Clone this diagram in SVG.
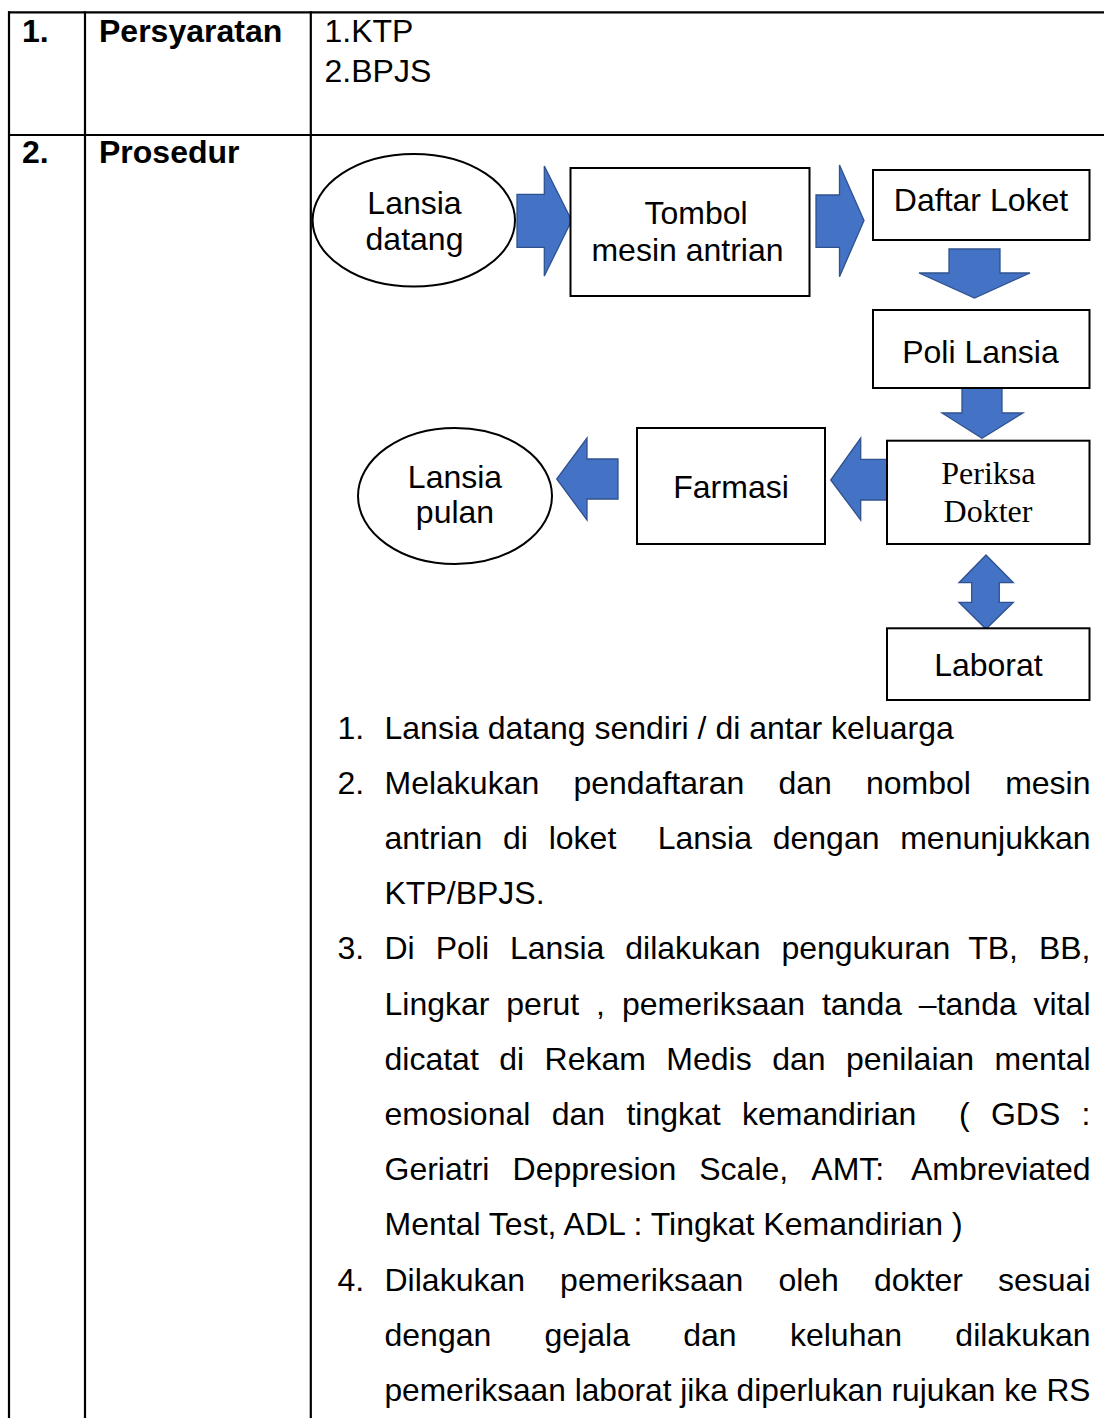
<svg xmlns="http://www.w3.org/2000/svg" width="1104" height="1418" viewBox="0 0 1104 1418">
  <style>
    .grid { stroke: #000; stroke-width: 2.2; fill: none; }
    .box { fill: #fff; stroke: #000; stroke-width: 2; }
    .arrow { fill: #4472C4; stroke: #2F528F; stroke-width: 1.3; stroke-linejoin: miter; }
    text { font-family: "Liberation Sans", Arial, sans-serif; font-size: 32px; fill: #000; }
    .b { font-weight: bold; }
    .c { text-anchor: middle; }
    .serif { font-family: "Liberation Serif", "Times New Roman", serif; }
  </style>

  <rect width="1104" height="1418" fill="#fff"/>

  <!-- table rules -->
  <g id="table">
    <line class="grid" x1="8" y1="12.3" x2="1104" y2="12.3"/>
    <line class="grid" x1="8" y1="135" x2="1104" y2="135"/>
    <line class="grid" x1="9" y1="11.2" x2="9" y2="1418"/>
    <line class="grid" x1="85" y1="11.2" x2="85" y2="1418"/>
    <line class="grid" x1="310.8" y1="11.2" x2="310.8" y2="1418"/>
  </g>

  <!-- table cells -->
  <g id="cells">
    <text class="b" x="22" y="41.7">1.</text>
    <text class="b" x="99" y="41.7">Persyaratan</text>
    <text x="324.5" y="41.7">1.KTP</text>
    <text x="324.5" y="82">2.BPJS</text>
    <text class="b" x="22" y="163">2.</text>
    <text class="b" x="99" y="163">Prosedur</text>
  </g>

  <!-- block arrows between steps -->
  <g id="connectors">
    <polygon class="arrow" points="517,194.3 544.3,194.3 544.3,166 571.7,220.5 544.3,276 544.3,247.3 517,247.3"/>
    <polygon class="arrow" points="816,195 839.5,195 839.5,165 864,220.5 839.5,276.7 839.5,247.3 816,247.3"/>
    <polygon class="arrow" points="949,249 1000,249 1000,273 1030,273 974.5,298 919,273 949,273"/>
    <polygon class="arrow" points="962,388 1002,388 1002,413 1023,413 982,438.3 942,413 962,413"/>
    <polygon class="arrow" points="887,459.3 860.7,459.3 860.7,438 830.7,480 860.7,520 860.7,500 887,500"/>
    <polygon class="arrow" points="618,459 587,459 587,438 556.7,479 587,520 587,499 618,499"/>
    <polygon class="arrow" points="986,555 1013.3,582.7 999.3,582.7 999.3,602.3 1013.3,602.3 986,629 959,602.3 971.7,602.3 971.7,582.7 959,582.7"/>
  </g>

  <g id="lansia-datang">
    <ellipse class="box" cx="413.8" cy="220.3" rx="101.2" ry="66.3"/>
    <text class="c" x="414.5" y="214">Lansia</text>
    <text class="c" x="414.5" y="250">datang</text>
  </g>

  <g id="tombol">
    <rect class="box" x="570.5" y="168" width="239" height="128"/>
    <text class="c" x="696" y="224">Tombol</text>
    <text class="c" x="687.5" y="260.7">mesin antrian</text>
  </g>

  <g id="daftar-loket">
    <rect class="box" x="873" y="170" width="216.5" height="70"/>
    <text class="c" x="981" y="210.7">Daftar Loket</text>
  </g>

  <g id="poli-lansia">
    <rect class="box" x="873" y="310" width="216.5" height="78"/>
    <text class="c" x="980.5" y="362.7">Poli Lansia</text>
  </g>

  <g id="periksa-dokter">
    <rect class="box" x="887" y="440.7" width="202.5" height="103.3"/>
    <text class="c serif" x="988.4" y="484">Periksa</text>
    <text class="c serif" x="988" y="521.7">Dokter</text>
  </g>

  <g id="farmasi">
    <rect class="box" x="637" y="428" width="188" height="116"/>
    <text class="c" x="731" y="498">Farmasi</text>
  </g>

  <g id="laborat">
    <rect class="box" x="887" y="628.3" width="202.5" height="71.7"/>
    <text class="c" x="988.4" y="676">Laborat</text>
  </g>

  <g id="lansia-pulan">
    <ellipse class="box" cx="455" cy="496" rx="97" ry="68"/>
    <text class="c" x="455" y="488">Lansia</text>
    <text class="c" x="455" y="523">pulan</text>
  </g>

  <!-- numbered procedure steps, justified word by word -->
  <g id="steps">
    <text x="337.5" y="738.5">1.</text>
    <text x="384.5" y="738.5">Lansia datang sendiri / di antar keluarga</text>

    <text x="337.5" y="793.7">2.</text>
    <text y="793.7"><tspan x="384.5">Melakukan</tspan><tspan x="573.43">pendaftaran</tspan><tspan x="778.42">dan</tspan><tspan x="866.01">nombol</tspan><tspan x="1005.15">mesin</tspan></text>
    <text y="848.9"><tspan x="384.5">antrian</tspan><tspan x="503.05">di</tspan><tspan x="548.68">loket</tspan><tspan x="657.72">Lansia</tspan><tspan x="772.72">dengan</tspan><tspan x="900.2">menunjukkan</tspan></text>
    <text x="384.5" y="904.1">KTP/BPJS.</text>

    <text x="337.5" y="959.3">3.</text>
    <text y="959.3"><tspan x="384.5">Di</tspan><tspan x="435.69">Poli</tspan><tspan x="510">Lansia</tspan><tspan x="625.25">dilakukan</tspan><tspan x="781.39">pengukuran</tspan><tspan x="968.16">TB,</tspan><tspan x="1038.92">BB,</tspan></text>
    <text y="1014.5"><tspan x="384.5">Lingkar</tspan><tspan x="506.31">perut</tspan><tspan x="596.11">,</tspan><tspan x="621.89">pemeriksaan</tspan><tspan x="821.93">tanda</tspan><tspan x="918.87">–tanda</tspan><tspan x="1033.6">vital</tspan></text>
    <text y="1069.7"><tspan x="384.5">dicatat</tspan><tspan x="499.22">di</tspan><tspan x="544.57">Rekam</tspan><tspan x="666.36">Medis</tspan><tspan x="772.15">dan</tspan><tspan x="845.98">penilaian</tspan><tspan x="994.49">mental</tspan></text>
    <text y="1124.9"><tspan x="384.5">emosional</tspan><tspan x="551.66">dan</tspan><tspan x="626.38">tingkat</tspan><tspan x="741.98">kemandirian</tspan><tspan x="958.93">(</tspan><tspan x="990.92">GDS</tspan><tspan x="1081.6">:</tspan></text>
    <text y="1180.1"><tspan x="384.5">Geriatri</tspan><tspan x="512.52">Deppresion</tspan><tspan x="699.26">Scale,</tspan><tspan x="811.31">AMT:</tspan><tspan x="910.88">Ambreviated</tspan></text>
    <text x="384.5" y="1235.3">Mental Test, ADL : Tingkat Kemandirian )</text>

    <text x="337.5" y="1290.5">4.</text>
    <text y="1290.5"><tspan x="384.5">Dilakukan</tspan><tspan x="560.1">pemeriksaan</tspan><tspan x="778.38">oleh</tspan><tspan x="873.98">dokter</tspan><tspan x="998.02">sesuai</tspan></text>
    <text y="1345.7"><tspan x="384.5">dengan</tspan><tspan x="544.57">gejala</tspan><tspan x="683.26">dan</tspan><tspan x="789.96">keluhan</tspan><tspan x="955.33">dilakukan</tspan></text>
    <text x="384.5" y="1400.9" textLength="706" lengthAdjust="spacingAndGlyphs">pemeriksaan laborat jika diperlukan rujukan ke RS</text>
  </g>
</svg>
